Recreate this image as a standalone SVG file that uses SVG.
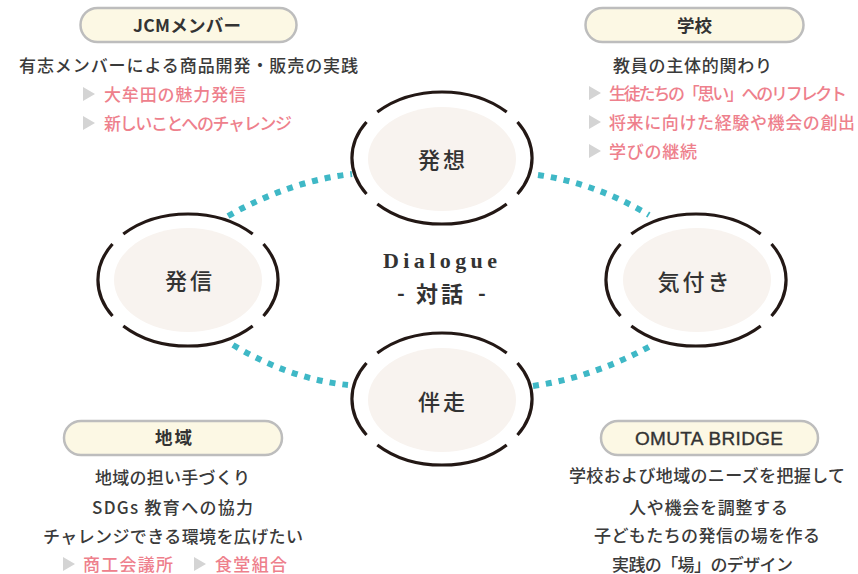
<svg xmlns="http://www.w3.org/2000/svg" xmlns:xlink="http://www.w3.org/1999/xlink" width="858" height="574" viewBox="0 0 858 574">
<style>
  .ring path { fill: none; stroke: #231815; stroke-width: 3.2; }
  .core { fill: #F8F3EF; }
  .node-label { font-family: "Noto Sans CJK JP", "Noto Sans", sans-serif; font-size: 22px; font-weight: 500; fill: #333; letter-spacing: 3px; text-anchor: middle; }
  .pill { fill: #FCF8E4; stroke: #BDBDBD; stroke-width: 2.5; }
  .title { font-family: "Noto Sans CJK JP", "Noto Sans", sans-serif; font-size: 17.5px; font-weight: 700; fill: #333; }
  .body { font-family: "Noto Sans CJK JP", "Noto Sans", sans-serif; font-size: 17px; font-weight: 500; fill: #3A3A3A; }
  .pink { font-family: "Noto Sans CJK JP", "Noto Sans", sans-serif; font-size: 17px; font-weight: 500; fill: #EE808C; }
  .tri { fill: #D4D4D4; }
  .conn { fill: none; stroke: #3FB8C6; stroke-width: 6; stroke-dasharray: 6 7; }
</style>
<defs>
  <g id="ring" class="ring">
    <path d="M -64.7 -45.9 A 90 66 0 0 1 64.7 -45.9"/>
    <path d="M 64.7 45.9 A 90 66 0 0 1 -64.7 45.9"/>
    <path d="M -75.5 36 A 90 66 0 0 1 -75.5 -36"/>
    <path d="M 75.5 -36 A 90 66 0 0 1 75.5 36"/>
  </g>
  <ellipse id="core" class="core" cx="0" cy="0" rx="74" ry="52"/>
  <path id="tri" class="tri" d="M 0 -7 L 12 0 L 0 7 Z"/>
</defs>

<g id="connectors">
  <path class="conn" d="M 228 216 Q 290 181 352 174"/>
  <path class="conn" d="M 538 175 Q 595 183 649 215"/>
  <path class="conn" d="M 533 386 Q 595 377 654 344"/>
  <path class="conn" d="M 233 345 Q 290 379 348 385"/>
</g>

<g id="node-hassou">
  <use xlink:href="#core" x="442" y="159"/>
  <use xlink:href="#ring" x="442" y="158"/>
  <text class="node-label" x="443" y="168">発想</text>
</g>
<g id="node-hasshin">
  <use xlink:href="#core" x="188" y="280"/>
  <use xlink:href="#ring" x="188" y="280"/>
  <text class="node-label" x="190" y="288.5">発信</text>
</g>
<g id="node-kizuki">
  <use xlink:href="#core" x="697" y="280"/>
  <use xlink:href="#ring" x="696" y="280"/>
  <text class="node-label" x="695" y="289.5">気付き</text>
</g>
<g id="node-bansou">
  <use xlink:href="#core" x="442" y="400"/>
  <use xlink:href="#ring" x="442" y="399"/>
  <text class="node-label" x="443" y="409.5">伴走</text>
</g>

<g id="center-label">
  <text x="383" y="268" textLength="114" lengthAdjust="spacing" style="font-family:'Liberation Serif',serif;font-size:22px;font-weight:700;fill:#333;">Dialogue</text>
  <text x="397" y="301" style="font-family:'Noto Sans CJK JP',sans-serif;font-size:21px;font-weight:700;fill:#333;">-</text>
  <text x="441" y="301.5" text-anchor="middle" style="font-family:'Noto Sans CJK JP',sans-serif;font-size:22px;font-weight:700;fill:#333;letter-spacing:3px;">対話</text>
  <text x="478" y="301" style="font-family:'Noto Sans CJK JP',sans-serif;font-size:21px;font-weight:700;fill:#333;">-</text>
</g>

<g id="jcm">
  <rect class="pill" x="80.5" y="8" width="216" height="34" rx="17"/>
  <text class="title" x="133" y="31.5" textLength="108" lengthAdjust="spacing">JCMメンバー</text>
  <text class="body" x="19" y="71.5" textLength="339" lengthAdjust="spacing">有志メンバーによる商品開発・販売の実践</text>
  <use xlink:href="#tri" x="83" y="94"/>
  <text class="pink" x="104" y="100.5" textLength="142" lengthAdjust="spacing">大牟田の魅力発信</text>
  <use xlink:href="#tri" x="83" y="123"/>
  <text class="pink" x="104" y="129.5" textLength="188" lengthAdjust="spacing">新しいことへのチャレンジ</text>
</g>

<g id="school">
  <rect class="pill" x="585.5" y="8" width="218" height="34" rx="17"/>
  <text class="title" x="677" y="31.5" textLength="35" lengthAdjust="spacing">学校</text>
  <text class="body" x="613" y="71.5" textLength="159" lengthAdjust="spacing">教員の主体的関わり</text>
  <use xlink:href="#tri" x="589" y="93"/>
  <text class="pink" x="609" y="99.5" textLength="238" lengthAdjust="spacing">生徒たちの「思い」へのリフレクト</text>
  <use xlink:href="#tri" x="589" y="122"/>
  <text class="pink" x="609" y="128.5" textLength="246" lengthAdjust="spacing">将来に向けた経験や機会の創出</text>
  <use xlink:href="#tri" x="589" y="151"/>
  <text class="pink" x="609" y="157.5" textLength="88" lengthAdjust="spacing">学びの継続</text>
</g>

<g id="region">
  <rect class="pill" x="64" y="421" width="218" height="34" rx="17"/>
  <text class="title" x="155" y="443.5" textLength="37" lengthAdjust="spacing">地域</text>
  <text class="body" x="95" y="483.5" textLength="155" lengthAdjust="spacing">地域の担い手づくり</text>
  <text class="body" x="92" y="513.5" textLength="161" lengthAdjust="spacing">SDGs 教育への協力</text>
  <text class="body" x="43" y="542.5" textLength="260" lengthAdjust="spacing">チャレンジできる環境を広げたい</text>
  <use xlink:href="#tri" x="63" y="564"/>
  <text class="pink" x="83" y="570.5" textLength="90" lengthAdjust="spacing">商工会議所</text>
  <use xlink:href="#tri" x="194" y="564"/>
  <text class="pink" x="215" y="570.5" textLength="72" lengthAdjust="spacing">食堂組合</text>
</g>

<g id="omuta">
  <rect class="pill" x="601" y="421" width="217" height="34" rx="17"/>
  <text x="635" y="444.5" textLength="148" lengthAdjust="spacing" style="font-family:'Liberation Sans',Arial,sans-serif;font-size:19px;font-weight:400;fill:#333;stroke:#333;stroke-width:0.35;">OMUTA BRIDGE</text>
  <text class="body" x="569" y="481.5" textLength="276" lengthAdjust="spacing">学校および地域のニーズを把握して</text>
  <text class="body" x="629" y="513.5" textLength="159" lengthAdjust="spacing">人や機会を調整する</text>
  <text class="body" x="594" y="541.5" textLength="226" lengthAdjust="spacing">子どもたちの発信の場を作る</text>
  <text class="body" x="612" y="570.5" textLength="181" lengthAdjust="spacing">実践の「場」のデザイン</text>
</g>
</svg>
